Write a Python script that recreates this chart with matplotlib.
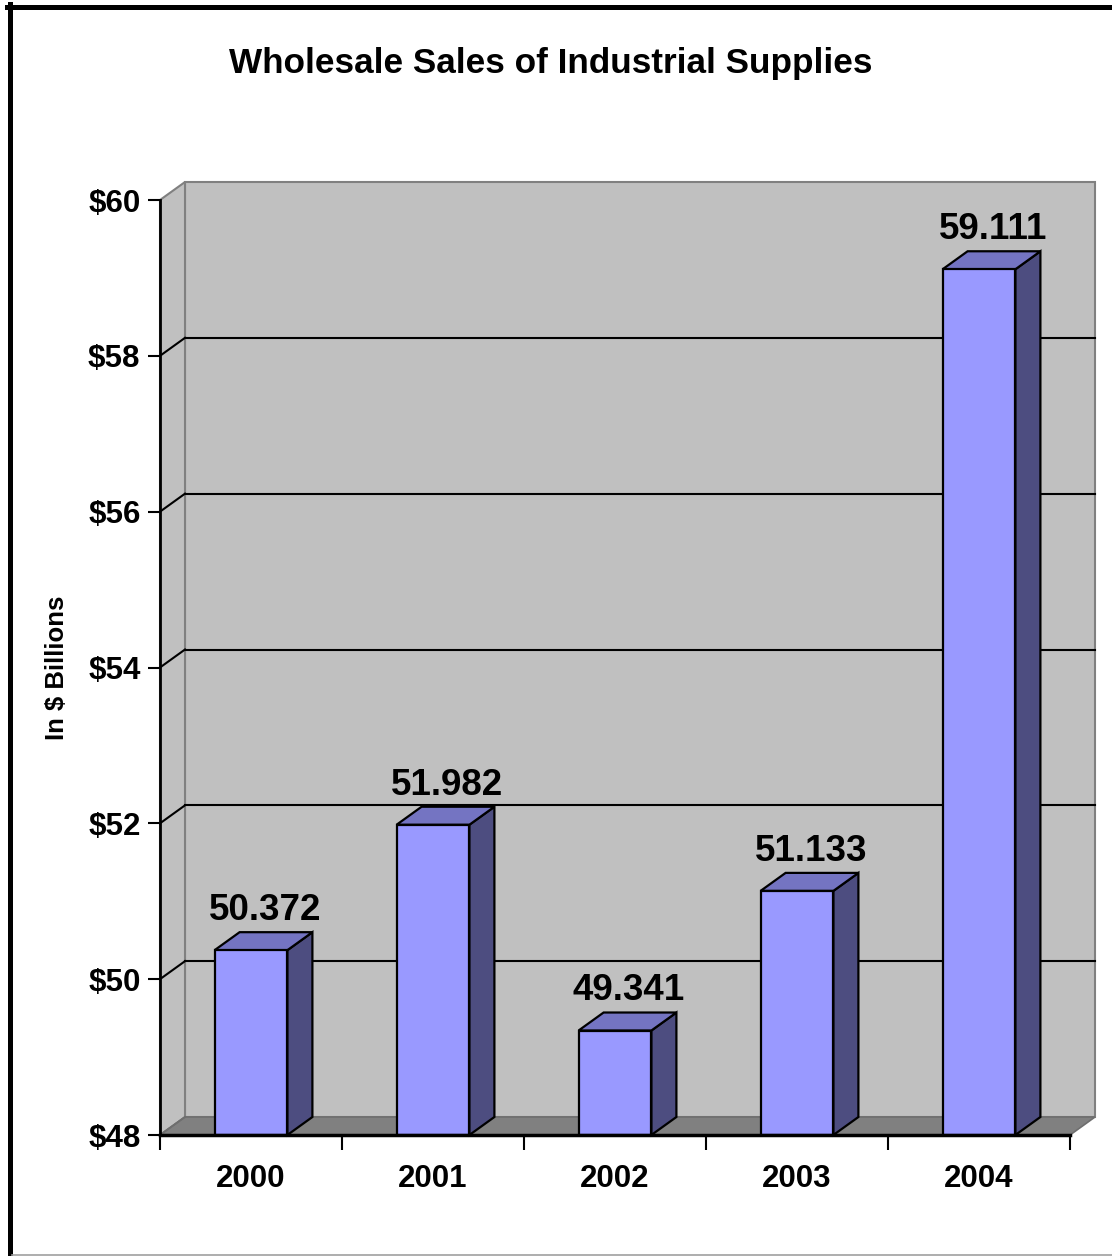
import matplotlib
matplotlib.use("Agg")
import matplotlib.pyplot as plt
from matplotlib.patches import Polygon, Rectangle
from matplotlib.lines import Line2D

years = ["2000", "2001", "2002", "2003", "2004"]
sales = [50.372, 51.982, 49.341, 51.133, 59.111]
yticks = [48, 50, 52, 54, 56, 58, 60]
ytick_labels = ["$48", "$50", "$52", "$54", "$56", "$58", "$60"]

W, H = 1112, 1256
plt.rcParams["font.family"] = ["Liberation Sans", "DejaVu Sans"]
fig = plt.figure(figsize=(W / 100, H / 100), dpi=100)

# front plane of the plot in pixels: x 160..1070, y 200..1135
ax = fig.add_axes([160 / W, (H - 1135) / H, 910 / W, 935 / H])
x0, x1 = -0.5, len(years) - 0.5
y0, y1 = yticks[0], yticks[-1]
ax.set_xlim(x0, x1); ax.set_ylim(y0, y1)
# depth offset in data units (25 px right, 18 px up)
ddx = 25 / (910 / len(years))
ddy = 18 / (935 / (y1 - y0))

WALL, FLOOR, EDGE = "#c0c0c0", "#808080", "#808080"
# back wall
ax.add_patch(Rectangle((x0 + ddx, y0 + ddy), x1 - x0, y1 - y0, fc=WALL, ec=EDGE, lw=1.5, clip_on=False, zorder=1))
# side wall
ax.add_patch(Polygon([(x0, y0), (x0 + ddx, y0 + ddy), (x0 + ddx, y1 + ddy), (x0, y1)],
                     closed=True, fc=WALL, ec=EDGE, lw=1.5, clip_on=False, zorder=1))
# floor
ax.add_patch(Polygon([(x0, y0), (x1, y0), (x1 + ddx, y0 + ddy), (x0 + ddx, y0 + ddy)],
                     closed=True, fc=FLOOR, ec="#6e6e6e", lw=1.2, clip_on=False, zorder=2))
# gridlines on back + side wall
for v in yticks[1:-1]:
    ax.add_line(Line2D([x0 + ddx, x1 + ddx], [v + ddy, v + ddy], color="black", lw=1.5, clip_on=False, zorder=2))
    ax.add_line(Line2D([x0, x0 + ddx], [v, v + ddy], color="black", lw=1.5, clip_on=False, zorder=2))
ax.add_line(Line2D([x0, x0 + ddx], [y0, y0 + ddy], color="#6e6e6e", lw=1.2, clip_on=False, zorder=2))

# bars
hw = 0.2
for i, v in enumerate(sales):
    l, r = i - hw, i + hw
    ax.add_patch(Rectangle((l, y0), 2 * hw, v - y0, fc="#9999ff", ec="black", lw=1.6, clip_on=False, zorder=4))
    ax.add_patch(Polygon([(r, y0), (r + ddx, y0 + ddy), (r + ddx, v + ddy), (r, v)],
                         closed=True, fc="#4d4d80", ec="black", lw=1.6, clip_on=False, zorder=3))
    ax.add_patch(Polygon([(l, v), (r, v), (r + ddx, v + ddy), (l + ddx, v + ddy)],
                         closed=True, fc="#7474c2", ec="black", lw=1.6, clip_on=False, zorder=3))
    ax.annotate(f"{v:.3f}", (i + ddx / 2, v + ddy), xytext=(1, 3), textcoords="offset points",
                ha="center", va="bottom", fontsize=26.5, fontweight="bold", zorder=5)

# axes, ticks
for s in ["top", "right"]:
    ax.spines[s].set_visible(False)
ax.spines["left"].set_linewidth(2); ax.spines["bottom"].set_linewidth(2.5)
ax.spines["left"].set_zorder(6); ax.spines["bottom"].set_zorder(6)
ax.set_facecolor("none")
ax.set_yticks(yticks, ytick_labels, fontsize=22.5, fontweight="bold")
ax.tick_params(axis="y", direction="out", length=9, width=1.5, pad=5)
ax.set_xticks([k - 0.5 for k in range(len(years) + 1)], [""] * (len(years) + 1))
ax.set_xticks(range(len(years)), years, minor=True, fontsize=22.5, fontweight="bold")
ax.tick_params(axis="x", which="major", direction="out", length=11, width=1.5)
ax.tick_params(axis="x", which="minor", length=0, pad=21)
ax.set_ylabel("In $ Billions", fontsize=18.5, fontweight="bold", labelpad=14)

fig.text(551 / W, 1 - 64 / H, "Wholesale Sales of Industrial Supplies", ha="center", va="center",
         fontsize=25.3, fontweight="bold")

# outer frame
fig.add_artist(Line2D([9.5 / W, 9.5 / W], [0, 1 - 4 / H], color="black", lw=3.6))
fig.add_artist(Line2D([7 / W, 1], [1 - 6.5 / H, 1 - 6.5 / H], color="black", lw=3.6))
fig.add_artist(Line2D([12 / W, 1], [1.5 / H, 1.5 / H], color="#a0a0a0", lw=1.2))

fig.savefig("out.png", dpi=100)
